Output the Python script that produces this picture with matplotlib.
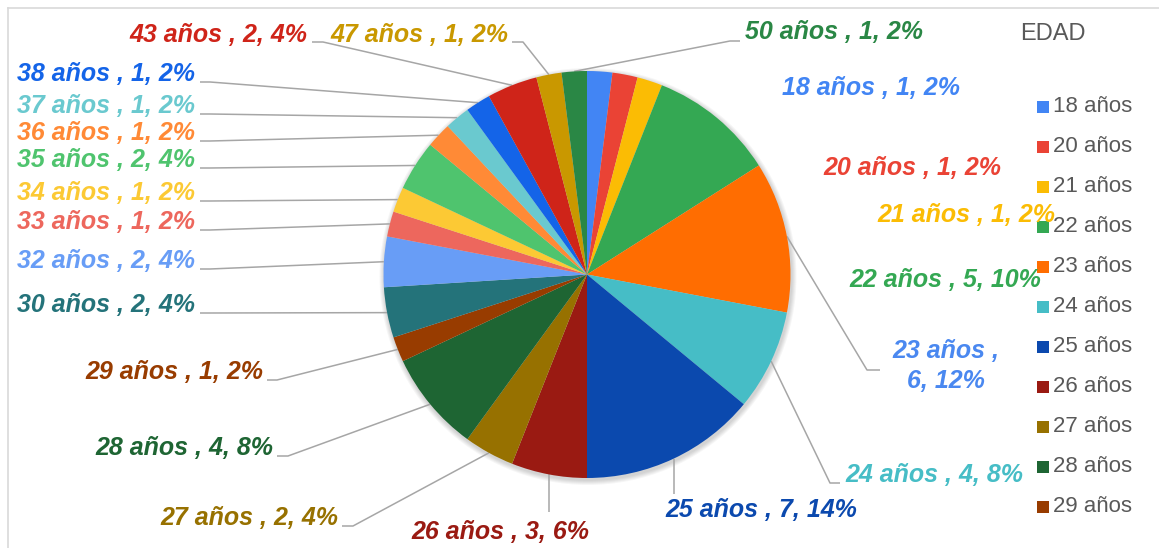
import numpy as np
import matplotlib.pyplot as plt
from matplotlib.patches import Rectangle, Circle

# data
ages = ['18 años', '20 años', '21 años', '22 años', '23 años', '24 años', '25 años',
        '26 años', '27 años', '28 años', '29 años', '30 años', '32 años', '33 años',
        '34 años', '35 años', '36 años', '37 años', '38 años', '43 años', '47 años',
        '50 años']
counts = [1, 1, 1, 5, 6, 4, 7, 3, 2, 4, 1, 2, 2, 1, 1, 2, 1, 1, 1, 2, 1, 1]
colors = ['#4285f4', '#ea4335', '#fbbc04', '#34a853', '#ff6d01', '#46bdc6', '#0b49ae',
          '#9a1a12', '#977100', '#1e6533', '#983c00', '#24737a', '#689df6', '#ed675d',
          '#fcc934', '#4fc46e', '#ff8a36', '#6ac9cf', '#1464e8', '#cf2419', '#c99800',
          '#2a8745']
label_colors = list(colors)
label_colors[4] = '#4a88f0'   # the 23 label is drawn in blue in the original
legend_shown = 11             # legend is cut off after "29 años"

W, H = 1159, 548
CX, CY, R = 587, 274.5, 203.5

# label placement: x, y, horizontal alignment
label_pos = {
    '18 años': (782, 88, 'left'),   '20 años': (823, 168, 'left'),
    '21 años': (877, 215, 'left'),  '22 años': (849, 280, 'left'),
    '23 años': (946, 366, 'center'), '24 años': (845, 475, 'left'),
    '25 años': (761, 510, 'center'), '26 años': (500, 532, 'center'),
    '27 años': (338, 518, 'right'), '28 años': (273, 448, 'right'),
    '29 años': (263, 372, 'right'), '30 años': (195, 305, 'right'),
    '32 años': (195, 261, 'right'), '33 años': (195, 222, 'right'),
    '34 años': (195, 193, 'right'), '35 años': (195, 160, 'right'),
    '36 años': (195, 133, 'right'), '37 años': (195, 106, 'right'),
    '38 años': (195, 74, 'right'),  '43 años': (307, 35, 'right'),
    '47 años': (508, 35, 'right'),  '50 años': (745, 32, 'left'),
}
# leader lines: start x (None -> straight down from pie), line y, elbow offset
leaders = {
    '23 años': (880, 370, -13), '24 años': (840, 483, -10),
    '25 años': (None, 494, 0), '26 años': (None, 512, 0),
    '27 años': (342, 526, 11), '28 años': (277, 456, 11),
    '29 años': (267, 380, 10), '30 años': (200, 313, 10),
    '32 años': (200, 269, 10), '33 años': (200, 230, 10),
    '34 años': (200, 201, 10), '35 años': (200, 168, 10),
    '36 años': (200, 141, 10), '37 años': (200, 114, 10),
    '38 años': (200, 82, 10),  '43 años': (312, 42, 11),
    '47 años': (512, 42, 11),  '50 años': (740, 41, -10),
}

plt.rcParams['font.family'] = ['Liberation Sans', 'DejaVu Sans']

fig = plt.figure(figsize=(W / 100, H / 100), dpi=100)
ax = fig.add_axes([0, 0, 1, 1])

# soft shadow behind the pie
for k in range(5):
    ax.add_patch(Circle((CX + 1, CY + 2), R + 1 + k, color='#000000', alpha=0.035, lw=0, zorder=0))

wedges, _ = ax.pie(counts, colors=colors, startangle=-90, counterclock=True,
                   radius=R, center=(CX, CY), wedgeprops=dict(linewidth=0))
for w in wedges:
    w.set_zorder(2)

total = sum(counts)
for i, (age, n) in enumerate(zip(ages, counts)):
    pct = round(100 * n / total)
    txt = f'{age} , {n}, {pct}%'
    if age == '23 años':
        txt = f'{age} ,\n{n}, {pct}%'
    x, y, ha = label_pos[age]
    ax.text(x, y, txt, ha=ha, va='center', color=label_colors[i], fontsize=18,
            fontweight='bold', fontstyle='italic', linespacing=1.3, zorder=4)

    if age in leaders:
        w = wedges[i]
        th = np.deg2rad((w.theta1 + w.theta2) / 2)
        ex, ey = CX + R * np.cos(th), CY + R * np.sin(th)
        sx, ly, dx = leaders[age]
        if sx is None:
            xs, ys = [ex, ex], [ey, ly]
        else:
            xs, ys = [sx, sx + dx, ex], [ly, ly, ey]
        ax.plot(xs, ys, color='#a6a6a6', lw=1.1, zorder=1, solid_capstyle='butt')

# legend (manual, truncated like the original)
ax.text(1020, 34, 'EDAD', ha='left', va='center', fontsize=17, color='#595959')
for i in range(legend_shown):
    y = 106 + 40 * i
    ax.add_patch(Rectangle((1037, y - 5), 12, 12, color=colors[i], lw=0))
    ax.text(1053, y + 1, ages[i], ha='left', va='center', fontsize=16, color='#595959')

# chart frame
ax.plot([8, W], [8, 8], color='#d9d9d9', lw=1.2)
ax.plot([8, 8], [8, H], color='#d9d9d9', lw=1.2)

ax.set_aspect('auto')
ax.set_xlim(0, W)
ax.set_ylim(H, 0)
ax.axis('off')

fig.savefig('out.png', dpi=100, facecolor='white')
